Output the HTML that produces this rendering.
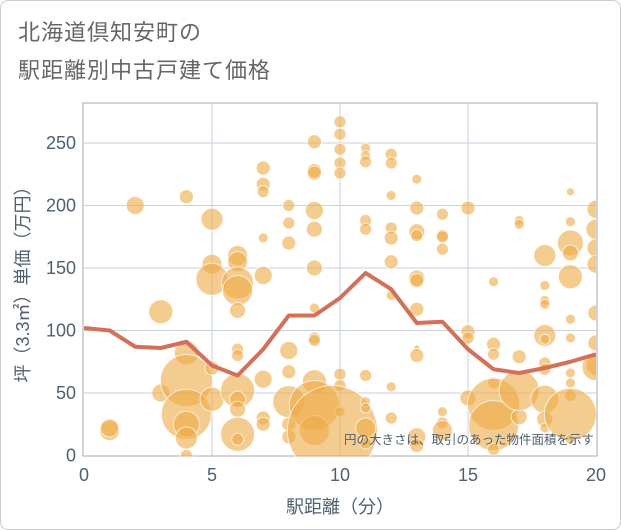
<!DOCTYPE html>
<html><head><meta charset="utf-8">
<style>
body{margin:0;background:#fff;}
#wrap{position:relative;width:619px;height:528px;border:1px solid #ccc;border-radius:8px;overflow:hidden;font-family:"Liberation Sans","Noto Sans CJK JP",sans-serif;}
.title{position:absolute;left:17px;font-size:22px;color:#666;letter-spacing:1px;}
</style></head>
<body>
<div id="wrap">
<div class="title" style="top:14px">北海道倶知安町の</div>
<div class="title" style="top:52px">駅距離別中古戸建て価格</div>
<svg id="chart" width="621" height="530" style="position:absolute;left:-1px;top:-1px"></svg>
</div>
<script>
const xTicks=[0,5,10,15,20];
const yTicks=[0,50,100,150,200,250];
const lineX=[0,1,2,3,4,5,6,7,8,9,10,11,12,13,14,15,16,17,18,19,20];
const lineY=[102,100,87,86,91,72,64,85,112,112,126,146,133,106,107,85,69,66,70,75,81];
const bubbleX=[1,1,2,3,3,4,4,4,4,4,4,4,5,5,5,5,5,6,6,6,6,6,6,6,6,6,6,6,6,7,7,7,7,7,7,7,7,8,8,8,8,8,8,8,8,9,9,9,9,9,9,9,9,9,9,9,9,10,10,10,10,10,10,10,10,9.7,11,11,11,11,11,11,11,11,11,11,12,12,12,12,12,12,12,12,12,13,13,13,13,13,13,13,13,13,13,13,14,14,14,14,14,14,14,15,15,15,15,16,16,16,16,16,16,16,17,17,17,17,17,18,18,18,18,18,18,18,18,18,18,18,19,19,19,19,19,19,19,19,19,19,19,19,20,20,20,20,20,20,20,20];
const bubbleY=[20,22,200,115,50,207,82,60,33,25,14,0,189,153,141,70,45,160,155,138,132,116,85,80,52,45,37,17,13,230,217,211,174,144,61,30,25,200,186,170,84,67,43,25,15,251,228,226,196,181,150,118,94,92,59,40,20,267,257,245,234,226,65,56,35,20,246,240,235,188,181,64,43,38,22,10,241,234,208,182,174,155,128,55,30,221,198,179,176,142,140,117,86,80,15,8,193,176,175,165,35,26,20,198,99,94,46,139,89,81,58,41,24,5,188,185,79,31,52,160,136,124,121,96,93,74,69,45,29,22,211,187,170,162,143,109,94,66,58,48,33,13,197,181,166,153,114,90,72,71];
const bubbleSize=[10,9,9,12,9,7,12,26,25,13,11,6,11,10,16,7,12,10,10,16,15,8,6,6,17,8,8,17,6,7,7,6,5,9,9,7,7,6,6,7,9,7,16,7,7,7,7,7,9,8,8,5,6,6,12,25,15,6,6,6,6,6,6,6,5,45,5,5,6,6,6,6,5,5,10,6,6,6,5,6,7,7,5,5,6,5,7,8,6,8,7,7,3,7,9,7,6,6,6,6,5,6,10,7,7,6,8,5,7,6,6,26,25,6,5,5,7,8,20,11,5,5,5,11,5,6,6,14,8,5,4,5,13,8,12,5,5,5,5,6,26,5,9,10,9,9,8,8,10,14];
const NS="http://www.w3.org/2000/svg";
const svg=document.getElementById('chart');
const L=84,R=596,T=104,B=455.5;
const xs=v=>L+(v-0)/20*(R-L);
const ys=v=>B-v*1.25;
function mk(t,a){const e=document.createElementNS(NS,t);for(const k in a)e.setAttribute(k,a[k]);svg.appendChild(e);return e;}
const frame=mk('rect',{x:83,y:103,width:514,height:353,fill:'#fff',stroke:'#aaa','stroke-width':1});


yTicks.forEach(v=>{
 if(v>0){const g=mk('line',{x1:L,x2:R,y1:ys(v),y2:ys(v),stroke:'#c8d2dc','stroke-width':1});
 
 }
 const t=mk('text',{x:76,y:ys(v)+6,'text-anchor':'end','font-size':18,fill:'#50606e'});t.textContent=v;
 
 
});
xTicks.forEach(v=>{
 if(v>0&&v<20){const g=mk('line',{x1:xs(v),x2:xs(v),y1:T,y2:B,stroke:'#c8d2dc','stroke-width':1});
 
 }
 const t=mk('text',{x:xs(v),y:481,'text-anchor':'middle','font-size':18,fill:'#50606e'});t.textContent=v;
 
 
});
const clip=mk('clipPath',{id:'pc'});
const cr=document.createElementNS(NS,'rect');cr.setAttribute('x',L);cr.setAttribute('y',T);cr.setAttribute('width',R-L);cr.setAttribute('height',B-T+1);clip.appendChild(cr);
const bg=mk('g',{'clip-path':'url(#pc)'});


bubbleX.forEach((x,i)=>{
 const c=document.createElementNS(NS,'circle');
 c.setAttribute('cx',xs(x));c.setAttribute('cy',ys(bubbleY[i]));c.setAttribute('r',bubbleSize[i]);
 c.setAttribute('fill','rgba(238,170,70,0.6)');c.setAttribute('stroke','rgba(255,255,255,0.7)');c.setAttribute('stroke-width','1');
 
 
 bg.appendChild(c);
});
const p=mk('polyline',{points:lineX.map((x,i)=>xs(x)+','+ys(lineY[i])).join(' '),fill:'none',stroke:'#d4705a','stroke-width':4,'stroke-linejoin':'round','clip-path':'url(#pc)'});


const an=mk('text',{x:594,y:444,'text-anchor':'end','font-size':12.5,fill:'#50606e'});an.textContent='円の大きさは、取引のあった物件面積を示す';


const xt=mk('text',{x:340,y:513,'text-anchor':'middle','font-size':18,fill:'#50606e'});xt.textContent='駅距離（分）';


const yt=mk('text',{x:0,y:0,'text-anchor':'middle','font-size':18,fill:'#50606e',transform:'translate(29,280) rotate(-90)'});yt.textContent='坪（3.3㎡）単価（万円）';


</script>
</body></html>
